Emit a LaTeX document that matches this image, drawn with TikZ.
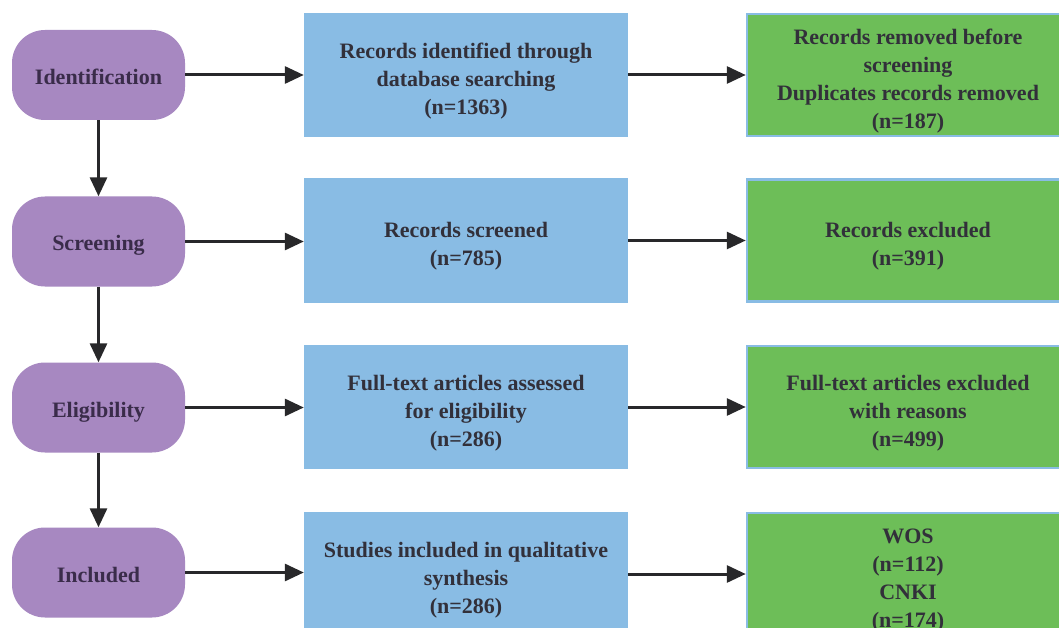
\documentclass[tikz,border=0pt]{standalone}
\usepackage{fontspec}
\setmainfont{LiberationSerif}[Extension=.ttf, UprightFont=*-Regular, BoldFont=*-Bold, ItalicFont=*-Italic, BoldItalicFont=*-BoldItalic]
\usetikzlibrary{arrows.meta}
\definecolor{pillfill}{RGB}{167,136,193}
\definecolor{bluefill}{RGB}{137,188,228}
\definecolor{greenfill}{RGB}{109,190,88}
\definecolor{pilltext}{RGB}{58,44,74}
\definecolor{boxtext}{RGB}{50,48,58}
\definecolor{arrowcol}{RGB}{40,40,42}
\newcommand\firstln{\rule{0pt}{27pt}}
\tikzset{
  pill/.style={fill=pillfill, rounded corners=33pt, minimum width=173pt, minimum height=90pt, inner sep=0pt, text=pilltext, text height=24pt, text depth=5pt, font=\fontsize{22}{28}\selectfont\bfseries},
  bluebox/.style={fill=bluefill, minimum width=324pt, minimum height=124pt, inner sep=0pt, align=center, text=boxtext, font=\fontsize{22}{28}\selectfont\bfseries},
  greenbox/.style={fill=greenfill, draw=bluefill, line width=2.5pt, minimum width=322pt, minimum height=122pt, inner sep=0pt, align=center, text=boxtext, font=\fontsize{22}{28}\selectfont\bfseries},
  conn/.style={draw=arrowcol, line width=3pt, -{Triangle[length=19pt,width=17pt]}}
}
\begin{document}
\begin{tikzpicture}[x=1pt,y=-1pt]
\useasboundingbox (0,0) rectangle (1059,628);
\clip (0,0) rectangle (1059,628);
\fill[white] (0,0) rectangle (1059,628);
% left column
\node[pill] (p1) at (98.5,75) {Identification};
\node[pill] (p2) at (98.5,241.5) {Screening};
\node[pill] (p3) at (98.5,407.5) {Eligibility};
\node[pill] (p4) at (98.5,572.5) {Included};
% middle column
\node[bluebox] (b1) at (466,75) {\firstln Records identified through\\database searching\\(n=1363)};
\node[bluebox] (b2) at (466,240.5) {\firstln Records screened\\(n=785)};
\node[bluebox] (b3) at (466,407) {\firstln Full-text articles assessed\\for eligibility\\(n=286)};
\node[bluebox] (b4) at (466,574) {\firstln Studies included in qualitative\\synthesis\\(n=286)};
% right column
\node[greenbox] (g1) at (908,75) {\firstln Records removed before\\screening\\Duplicates records removed\\(n=187)};
\node[greenbox] (g2) at (908,240.5) {\firstln Records excluded\\(n=391)};
\node[greenbox] (g3) at (908,407) {\firstln Full-text articles excluded\\with reasons\\(n=499)};
\node[greenbox] (g4) at (908,574) {\firstln WOS\\(n=112)\\CNKI\\(n=174)};
% connectors
\draw[conn] (p1.south) -- (p2.north);
\draw[conn] (p2.south) -- (p3.north);
\draw[conn] (p3.south) -- (p4.north);
\foreach \i in {1,2,3,4}{
  \draw[conn] (p\i.east) -- (p\i.east -| b\i.west);
  \draw[conn] (b\i.east) -- (b\i.east -| g\i.west);
}
\end{tikzpicture}
\end{document}
